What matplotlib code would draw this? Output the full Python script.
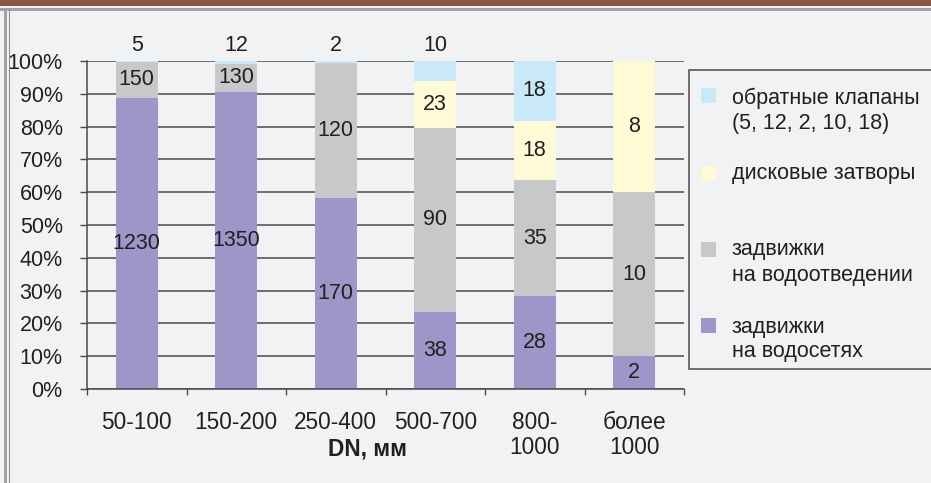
import matplotlib
matplotlib.use("Agg")
import matplotlib.pyplot as plt
from matplotlib.patches import Rectangle
import numpy as np

plt.rcParams['font.family'] = ['Liberation Sans', 'DejaVu Sans']

categories = ["50-100", "150-200", "250-400", "500-700", "800-\n1000", "более\n1000"]
mains_valves = [1230, 1350, 170, 38, 28, 2]        # задвижки на водосетях
sewer_valves = [150, 130, 120, 90, 35, 10]          # задвижки на водоотведении
butterfly_valves = [0, 0, 0, 23, 18, 8]             # дисковые затворы
check_valves = [5, 12, 2, 10, 18, 0]                # обратные клапаны
y_ticks = [0, 10, 20, 30, 40, 50, 60, 70, 80, 90, 100]

series = [mains_valves, sewer_valves, butterfly_valves, check_valves]
colors = ["#9c96c9", "#c7c8ca", "#fffad6", "#c9e9f8"]
legend_lines = [
    ["задвижки", "на водосетях"],
    ["задвижки", "на водоотведении"],
    ["дисковые затворы"],
    ["обратные клапаны", "(5, 12, 2, 10, 18)"],
]

BG = "#f1f2f4"
TXT = "#231f20"
FS = 15.5
W, H = 931, 483
fig = plt.figure(figsize=(W / 100, H / 100), dpi=100, facecolor=BG)

# frame decoration
fig.add_artist(Rectangle((0, 1 - 5.5 / H), 1, 5.5 / H, transform=fig.transFigure,
                         facecolor="#8b5746", edgecolor="none"))
fig.add_artist(Rectangle((0, 1 - 11 / H), 1, 3 / H, transform=fig.transFigure,
                         facecolor="#a2a3a5", edgecolor="none"))
fig.add_artist(Rectangle((4 / W, 0), 3 / W, 1 - 8 / H, transform=fig.transFigure,
                         facecolor="#a2a3a5", edgecolor="none"))
fig.add_artist(Rectangle((8.5 / W, 0), 1 / W, 1 - 8 / H, transform=fig.transFigure,
                         facecolor="#8a8b8d", edgecolor="none"))

ax_left, ax_right = 87, 684
ax_top, ax_bot = 61, 389
ax = fig.add_axes([ax_left / W, (H - ax_bot) / H, (ax_right - ax_left) / W, (ax_bot - ax_top) / H])
ax.set_facecolor(BG)

totals = np.sum(np.array(series, dtype=float), axis=0)
x = np.arange(len(categories))
bottom = np.zeros(len(categories))
for idx, (vals, col) in enumerate(zip(series, colors)):
    vals = np.array(vals, dtype=float)
    share = vals / totals * 100
    ax.bar(x, share, width=0.42, bottom=bottom, color=col, edgecolor="none", zorder=3)
    for i in range(len(x)):
        if vals[i] <= 0:
            continue
        if idx == 3 and share[i] < 10:
            ax.annotate(f"{int(vals[i])}", (x[i], 100), xytext=(0, 11.5),
                        textcoords="offset points", ha="center", va="center",
                        fontsize=FS, color=TXT, zorder=5, annotation_clip=False)
        else:
            ax.text(x[i], bottom[i] + share[i] / 2, f"{int(vals[i])}", ha="center",
                    va="center", fontsize=FS, color=TXT, zorder=5)
    bottom += share

ax.set_xlim(-0.5, len(categories) - 0.5)
ax.set_ylim(0, 100)
ax.set_yticks(y_ticks)
ax.set_yticklabels([f"{v}%" for v in y_ticks])
ax.yaxis.grid(True, color="#4a4a4c", linewidth=1.1, zorder=1)
ax.set_axisbelow(True)
ax.tick_params(axis="y", length=5, width=1.0, color="#4a4a4c", pad=12.5,
               labelsize=FS, labelcolor=TXT)
ax.set_xticks(x)
ax.set_xticklabels(categories, linespacing=1.1)
ax.set_xticks(np.arange(-0.5, len(categories) + 0.5, 1), minor=True)
ax.tick_params(axis="x", which="major", length=0, pad=16, labelsize=16.3, labelcolor=TXT)
ax.tick_params(axis="x", which="minor", length=4, width=1.0, color="#4a4a4c")
for side in ["top", "right"]:
    ax.spines[side].set_visible(False)
for side in ["left", "bottom"]:
    ax.spines[side].set_color("#4a4a4c")
    ax.spines[side].set_linewidth(1.1)
    ax.spines[side].set_zorder(4)

fig.text(367 / W, (H - 449) / H, "DN, мм", ha="center", va="center",
         fontsize=16.3, fontweight="bold", color=TXT)

# legend panel
fig.add_artist(Rectangle((689 / W, (H - 369) / H), 300 / W, 299 / H, transform=fig.transFigure,
                         facecolor=BG, edgecolor="#4a4a4c", linewidth=1.1))
entries = [(3, 88, [98, 123]), (2, 166, [174]), (1, 242, [250, 275]), (0, 318, [327, 351])]
for idx, sq_top, line_ys in entries:
    fig.add_artist(Rectangle((701 / W, (H - sq_top - 15) / H), 15 / W, 15 / H,
                             transform=fig.transFigure, facecolor=colors[idx], edgecolor="none"))
    for line, ly in zip(legend_lines[idx], line_ys):
        fig.text(732 / W, (H - ly) / H, line, ha="left", va="center",
                 fontsize=FS, color=TXT)

fig.savefig("out.png", dpi=100, facecolor=BG)
